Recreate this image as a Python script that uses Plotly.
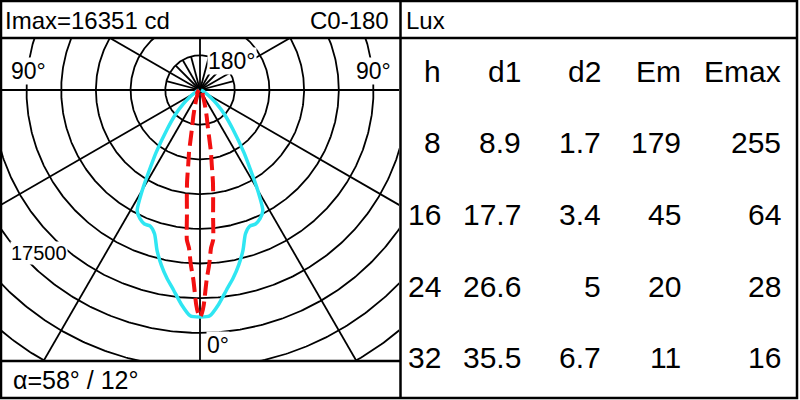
import numpy as np
import plotly.graph_objects as go

# ---- data -------------------------------------------------------------
# Luminous intensity (cd) vs angle from nadir (deg)
c0_angles = [0, 2.5, 5, 7.5, 10, 12.5, 15, 17.5, 20, 22.5, 25, 27.5, 30, 32.5, 35, 40, 45, 50, 55, 60, 70, 80, 90]
c0_cd = [16351, 16280, 15490, 14550, 13760, 12900, 11960, 10880, 10450, 10450, 10230, 9800, 8290, 6700,
         5550, 3670, 2520, 1590, 940, 500, 220, 110, 70]
c90_angles = [0, 0.5, 1, 2, 3, 4, 5, 6, 7, 8, 9, 10, 11, 12, 14, 17, 22, 30, 45, 60, 90]
c90_cd = [16351, 16070, 15490, 13690, 12610, 11400, 10850, 9000, 7780, 6700, 5400, 4540, 3400, 2700,
          2020, 1300, 720, 360, 290, 140, 70]

ring_values = [2500, 5000, 7500, 10000, 12500, 15000, 17500, 20000, 22500]
long_spokes = [0, 30, 60, 90, 120, 180, -30, -60, -90, -120]
short_spokes = [105, 135, 150, 165, -105, -135, -150, -165]

h_vals = [8, 16, 24, 32]
d1_vals = [8.9, 17.7, 26.6, 35.5]
d2_vals = [1.7, 3.4, 5, 6.7]
em_vals = [179, 45, 20, 11]
emax_vals = [255, 64, 28, 16]
col_names = ["h", "d1", "d2", "Em", "Emax"]

imax_text = "Imax=16351 cd"
plane_text = "C0-180"
unit_text = "Lux"
alpha_text = "α=58° / 12°"

# ---- geometry ---------------------------------------------------------
W, H = 800, 400
S = 2500 / 34.7          # cd per pixel
CX, CY = 200, 90         # pole position in pixels
TOP, BOT = 38, 361       # header / footer line positions (px)

def px(x):
    return x / W

def py(y):
    return 1 - y / H

fig = go.Figure()
black = "#000000"

def polar_xy(ang_deg, val):
    a = np.radians(np.asarray(ang_deg, dtype=float))
    v = np.asarray(val, dtype=float)
    return v * np.sin(a), -v * np.cos(a)

# rings
t = np.linspace(0, 360, 721)
for rv in ring_values:
    x, y = polar_xy(t, np.full_like(t, rv))
    fig.add_trace(go.Scatter(x=x, y=y, mode="lines", line=dict(color=black, width=1.8),
                             hoverinfo="skip", showlegend=False))
# spokes
for a in long_spokes:
    x, y = polar_xy([a, a], [0, 30000])
    fig.add_trace(go.Scatter(x=x, y=y, mode="lines", line=dict(color=black, width=1.8),
                             hoverinfo="skip", showlegend=False))
for a in short_spokes:
    x, y = polar_xy([a, a], [0, 2500])
    fig.add_trace(go.Scatter(x=x, y=y, mode="lines", line=dict(color=black, width=1.8),
                             hoverinfo="skip", showlegend=False))

# curves (mirror for the opposite half-plane)
def full_curve(angles, vals):
    a = np.array(angles, dtype=float)
    v = np.array(vals, dtype=float)
    aa = np.concatenate([-a[::-1], a[1:]])
    vv = np.concatenate([v[::-1], v[1:]])
    return polar_xy(aa, vv)

x0, y0 = full_curve(c0_angles, c0_cd)
fig.add_trace(go.Scatter(x=x0, y=y0, mode="lines", line=dict(color="#2FE6F2", width=3.5, shape="spline", smoothing=0.6),
                         name="C0-180", showlegend=False))
x9, y9 = full_curve(c90_angles, c90_cd)
fig.add_trace(go.Scatter(x=x9, y=y9, mode="lines",
                         line=dict(color="#F21010", width=4, dash="15px,6px", shape="spline", smoothing=0.6),
                         name="C90-270", showlegend=False))

fig.update_xaxes(domain=[px(2), px(399)], range=[(2 - CX) * S, (399 - CX) * S],
                 visible=False, fixedrange=True)
fig.update_yaxes(domain=[py(BOT), py(TOP)], range=[-(BOT - CY) * S, (CY - TOP) * S],
                 visible=False, fixedrange=True)

# ---- frame --------------------------------------------------------------
lw = 2.5
shapes = [
    dict(type="rect", x0=px(1), y0=py(1), x1=px(797), y1=py(398)),
    dict(type="line", x0=px(0), y0=py(TOP), x1=px(797), y1=py(TOP)),
    dict(type="line", x0=px(400.5), y0=py(0), x1=px(400.5), y1=py(398)),
    dict(type="line", x0=px(0), y0=py(BOT), x1=px(400.5), y1=py(BOT)),
]
for sh in shapes:
    sh.update(xref="paper", yref="paper", line=dict(color=black, width=lw))
fig.update_layout(shapes=shapes)

FONT = "Liberation Sans"

def ann(text, x, y, size, xanchor="left", bg=None):
    d = dict(text=text, x=px(x), y=py(y), xref="paper", yref="paper", showarrow=False,
             xanchor=xanchor, yanchor="middle", font=dict(family=FONT, size=size, color=black))
    if bg:
        d.update(bgcolor=bg, borderpad=0)
    fig.add_annotation(**d)

ann(imax_text, 3, 21, 24)
ann(plane_text, 391, 21, 24, xanchor="right")
ann(unit_text, 404, 21, 24)
ann(alpha_text, 11, 380, 25)

# diagram labels (white background breaks grid lines)
ann("90°", 10, 71, 23, bg="white")
ann("90°", 392, 71, 23, xanchor="right", bg="white")
ann("180°", 207, 61, 23, bg="white")
ann("0°", 206, 345, 23, bg="white")
ann(f"{ring_values[6]}", 10, 253, 20, bg="white")

# ---- table --------------------------------------------------------------
col_right = [443, 523, 603, 683, 783]
row_y = [142, 214, 286, 357]
for name, xr in zip(col_names, col_right):
    ann(name, xr, 71, 30, xanchor="right")
columns = [h_vals, d1_vals, d2_vals, em_vals, emax_vals]
for col, xr in zip(columns, col_right):
    for v, yy in zip(col, row_y):
        ann(f"{v:g}", xr, yy, 30, xanchor="right")

fig.update_layout(width=W, height=H, margin=dict(l=0, r=0, t=0, b=0),
                  paper_bgcolor="white", plot_bgcolor="white", showlegend=False)

fig.write_html("out.html", config={"displayModeBar": False, "staticPlot": True},
               post_script="document.body.style.margin='0';document.body.style.padding='0';")
